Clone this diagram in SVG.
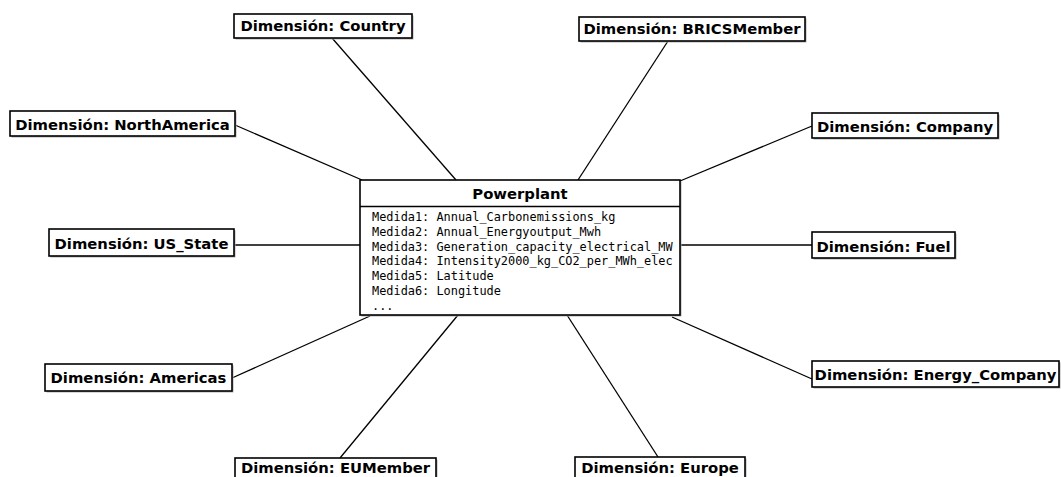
<svg xmlns="http://www.w3.org/2000/svg" width="1061" height="477" viewBox="0 0 1061 477">
<style>
.bx{fill:#fff;stroke:#000;stroke-width:1.6}
.sh{fill:#b0b0b0;stroke:none}
.lb{font-family:"DejaVu Sans",sans-serif;font-weight:bold;font-size:14.8px;text-anchor:middle;fill:#000}
.mo{font-family:"DejaVu Sans Mono",monospace;font-size:11.9px;fill:#000}
.cn line{stroke:#000;stroke-width:1.3}
</style>
<rect width="1061" height="477" fill="#fff"/>
<g class="cn">
<line x1="332" y1="38" x2="456" y2="180"/>
<line x1="668" y1="41" x2="578" y2="180"/>
<line x1="235" y1="125" x2="362" y2="180"/>
<line x1="812" y1="126" x2="680" y2="181"/>
<line x1="234" y1="245" x2="360" y2="245"/>
<line x1="680" y1="245" x2="812" y2="245"/>
<line x1="232" y1="378" x2="370" y2="316"/>
<line x1="340" y1="458" x2="458" y2="315"/>
<line x1="658" y1="457" x2="567" y2="315"/>
<line x1="812" y1="379" x2="672" y2="317"/>
</g>
<g id="powerplant">
<rect class="sh" x="361.5" y="181.5" width="320" height="135"/>
<rect class="bx" x="360" y="180" width="320" height="135"/>
<line x1="360" y1="206.5" x2="680" y2="206.5" stroke="#000" stroke-width="1.4"/>
<text class="lb" x="520" y="198.5">Powerplant</text>
<text class="mo" x="372" y="221">Medida1: Annual_Carbonemissions_kg</text>
<text class="mo" x="372" y="235.8">Medida2: Annual_Energyoutput_Mwh</text>
<text class="mo" x="372" y="250.6">Medida3: Generation_capacity_electrical_MW</text>
<text class="mo" x="372" y="265.4">Medida4: Intensity2000_kg_CO2_per_MWh_elec</text>
<text class="mo" x="372" y="280.2">Medida5: Latitude</text>
<text class="mo" x="372" y="295">Medida6: Longitude</text>
<text class="mo" x="372" y="309.8">...</text>
</g>
<g id="country"><rect class="sh" x="235.5" y="15.5" width="178" height="24"/><rect class="bx" x="234" y="14" width="178" height="24"/><text class="lb" x="323" y="31">Dimensión: Country</text></g>
<g id="bricsmember"><rect class="sh" x="580.5" y="18.5" width="226" height="24"/><rect class="bx" x="579" y="17" width="226" height="24"/><text class="lb" x="692" y="34">Dimensión: BRICSMember</text></g>
<g id="northamerica"><rect class="sh" x="11.5" y="112.5" width="225" height="25"/><rect class="bx" x="10" y="111" width="225" height="25"/><text class="lb" x="122.5" y="130">Dimensión: NorthAmerica</text></g>
<g id="company"><rect class="sh" x="813.5" y="114.5" width="186" height="25"/><rect class="bx" x="812" y="113" width="186" height="25"/><text class="lb" x="905" y="132">Dimensión: Company</text></g>
<g id="us_state"><rect class="sh" x="50.5" y="230.5" width="185" height="27"/><rect class="bx" x="49" y="229" width="185" height="27"/><text class="lb" x="141.5" y="249">Dimensión: US_State</text></g>
<g id="fuel"><rect class="sh" x="813.5" y="233.5" width="143" height="26"/><rect class="bx" x="812" y="232" width="143" height="26"/><text class="lb" x="883.5" y="252">Dimensión: Fuel</text></g>
<g id="americas"><rect class="sh" x="46.5" y="365.5" width="187" height="27"/><rect class="bx" x="45" y="364" width="187" height="27"/><text class="lb" x="138.5" y="383">Dimensión: Americas</text></g>
<g id="energy_company"><rect class="sh" x="813.5" y="362.5" width="247" height="26"/><rect class="bx" x="812" y="361" width="247" height="26"/><text class="lb" x="935.5" y="380">Dimensión: Energy_Company</text></g>
<g id="eumember"><rect class="sh" x="236.5" y="459.5" width="201" height="24"/><rect class="bx" x="235" y="458" width="201" height="24"/><text class="lb" x="335.5" y="473">Dimensión: EUMember</text></g>
<g id="europe"><rect class="sh" x="576.5" y="458.5" width="170" height="24"/><rect class="bx" x="575" y="457" width="170" height="24"/><text class="lb" x="660" y="472.7">Dimensión: Europe</text></g>
</svg>
